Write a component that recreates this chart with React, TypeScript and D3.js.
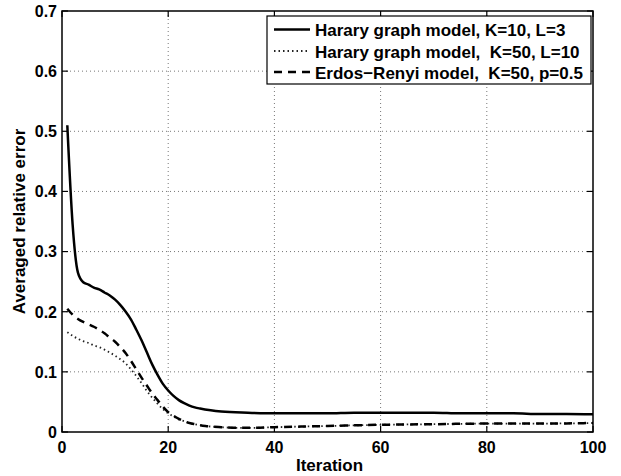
import React from "react";
import * as d3 from "d3";

const xTicks = [0, 20, 40, 60, 80, 100];
const yTicks = [0, 0.1, 0.2, 0.3, 0.4, 0.5, 0.6, 0.7];
const yTickLabels = ["0", "0.1", "0.2", "0.3", "0.4", "0.5", "0.6", "0.7"];

const seriesNames = [
  "Harary graph model, K=10, L=3",
  "Harary graph model,  K=50, L=10",
  "Erdos\u2212Renyi model,  K=50, p=0.5",
];

const iterSolid = [1, 2, 3, 4, 5, 6, 7, 8, 9, 10, 11, 12, 13, 14, 15, 16, 17, 18, 19, 20, 21, 22, 23, 24, 25, 26, 28, 30, 35, 40, 45, 50, 55, 60, 65, 70, 75, 80, 85, 90, 95, 100];
const errSolid = [0.51, 0.345, 0.265, 0.249, 0.245, 0.24, 0.237, 0.232, 0.227, 0.22, 0.211, 0.2, 0.187, 0.17, 0.152, 0.132, 0.112, 0.095, 0.08, 0.069, 0.06, 0.053, 0.048, 0.044, 0.041, 0.039, 0.036, 0.034, 0.032, 0.031, 0.031, 0.031, 0.032, 0.032, 0.032, 0.032, 0.031, 0.031, 0.031, 0.030, 0.030, 0.0295];

const iterDotted = [1, 2, 3, 4, 5, 6, 7, 8, 9, 10, 11, 12, 13, 14, 15, 16, 17, 18, 19, 20, 21, 22, 23, 24, 25, 27, 30, 33, 36, 40, 45, 50, 60, 70, 80, 90, 100];
const errDotted = [0.166, 0.16, 0.155, 0.151, 0.148, 0.144, 0.141, 0.137, 0.132, 0.127, 0.121, 0.114, 0.104, 0.093, 0.081, 0.068, 0.057, 0.047, 0.038, 0.031, 0.026, 0.021, 0.018, 0.015, 0.013, 0.01, 0.008, 0.007, 0.007, 0.008, 0.009, 0.01, 0.012, 0.013, 0.014, 0.014, 0.015];

const iterDashed = [1, 2, 3, 4, 5, 6, 7, 8, 9, 10, 11, 12, 13, 14, 15, 16, 17, 18, 19, 20, 21, 22, 23, 24, 25, 27, 30, 33, 36, 40, 45, 50, 60, 70, 80, 90, 100];
const errDashed = [0.205, 0.195, 0.188, 0.183, 0.179, 0.175, 0.17, 0.164, 0.157, 0.15, 0.141, 0.131, 0.118, 0.104, 0.09, 0.077, 0.064, 0.053, 0.042, 0.033, 0.027, 0.022, 0.018, 0.015, 0.013, 0.01, 0.008, 0.007, 0.007, 0.008, 0.009, 0.01, 0.012, 0.013, 0.014, 0.014, 0.015];

const W = 621;
const H = 476;
const L = 62, R = 593, T = 11, B = 432;
const FONT = "'Liberation Sans', Arial, Helvetica, sans-serif";

export default function App() {
  const x = d3.scaleLinear().domain([0, 100]).range([L, R]);
  const y = d3.scaleLinear().domain([0, 0.7]).range([B, T]);
  const line = d3
    .line<[number, number]>()
    .x((d) => x(d[0]))
    .y((d) => y(d[1]))
    .curve(d3.curveMonotoneX);

  const series = [
    { xs: iterSolid, ys: errSolid, dash: undefined as string | undefined, w: 2.5, c: "#000" },
    { xs: iterDotted, ys: errDotted, dash: "1.5,3", w: 1.8, c: "#222" },
    { xs: iterDashed, ys: errDashed, dash: "8,6", w: 2.5, c: "#000" },
  ];

  const tickLen = 6;
  const legX = 267, legY = 16, legW = 324, legH = 68;
  const rowY = [29.5, 51, 72];

  return (
    <svg
      width={W}
      height={H}
      style={{ position: "absolute", left: 0, top: 0, background: "#fff" }}
      fontFamily={FONT}
    >
      <rect x={0} y={0} width={W} height={H} fill="#fff" />
      {xTicks.slice(1, -1).map((t) => (
        <line key={"gx" + t} x1={x(t)} x2={x(t)} y1={T} y2={B} stroke="#777" strokeWidth={1} strokeDasharray="1,3" />
      ))}
      {yTicks.slice(1, -1).map((t) => (
        <line key={"gy" + t} x1={L} x2={R} y1={y(t)} y2={y(t)} stroke="#777" strokeWidth={1} strokeDasharray="1,3" />
      ))}
      {series.map((s, i) => (
        <path
          key={"s" + i}
          d={line(s.xs.map((v, j) => [v, s.ys[j]] as [number, number])) || ""}
          fill="none"
          stroke={s.c}
          strokeWidth={s.w}
          strokeDasharray={s.dash}
        />
      ))}
      {xTicks.map((t) => (
        <g key={"tx" + t}>
          <line x1={x(t)} x2={x(t)} y1={B} y2={B - tickLen} stroke="#000" strokeWidth={1.2} />
          <line x1={x(t)} x2={x(t)} y1={T} y2={T + tickLen} stroke="#000" strokeWidth={1.2} />
          <text x={x(t)} y={453} textAnchor="middle" fontSize={16} fontWeight="bold">
            {t}
          </text>
        </g>
      ))}
      {yTicks.map((t, i) => (
        <g key={"ty" + t}>
          <line x1={L} x2={L + tickLen} y1={y(t)} y2={y(t)} stroke="#000" strokeWidth={1.2} />
          <line x1={R} x2={R - tickLen} y1={y(t)} y2={y(t)} stroke="#000" strokeWidth={1.2} />
          <text x={57} y={y(t) + 5.8} textAnchor="end" fontSize={16} fontWeight="bold">
            {yTickLabels[i]}
          </text>
        </g>
      ))}
      <rect x={L} y={T} width={R - L} height={B - T} fill="none" stroke="#000" strokeWidth={1.5} />
      <text x={(L + R) / 2 + 2} y={471} textAnchor="middle" fontSize={17} fontWeight="bold">
        Iteration
      </text>
      <text
        transform={`translate(25,${(T + B) / 2}) rotate(-90)`}
        textAnchor="middle"
        fontSize={17}
        fontWeight="bold"
      >
        Averaged relative error
      </text>
      <rect x={legX} y={legY} width={legW} height={legH} fill="#fff" stroke="#000" strokeWidth={1.2} />
      {series.map((s, i) => (
        <g key={"lg" + i}>
          <line x1={274} x2={310} y1={rowY[i]} y2={rowY[i]} stroke={s.c} strokeWidth={s.w} strokeDasharray={s.dash} />
          <text
            x={315}
            y={rowY[i] + 6.5}
            fontSize={17}
            fontWeight="bold"
            xmlSpace="preserve"
            style={{ whiteSpace: "pre" }}
          >
            {seriesNames[i]}
          </text>
        </g>
      ))}
    </svg>
  );
}
